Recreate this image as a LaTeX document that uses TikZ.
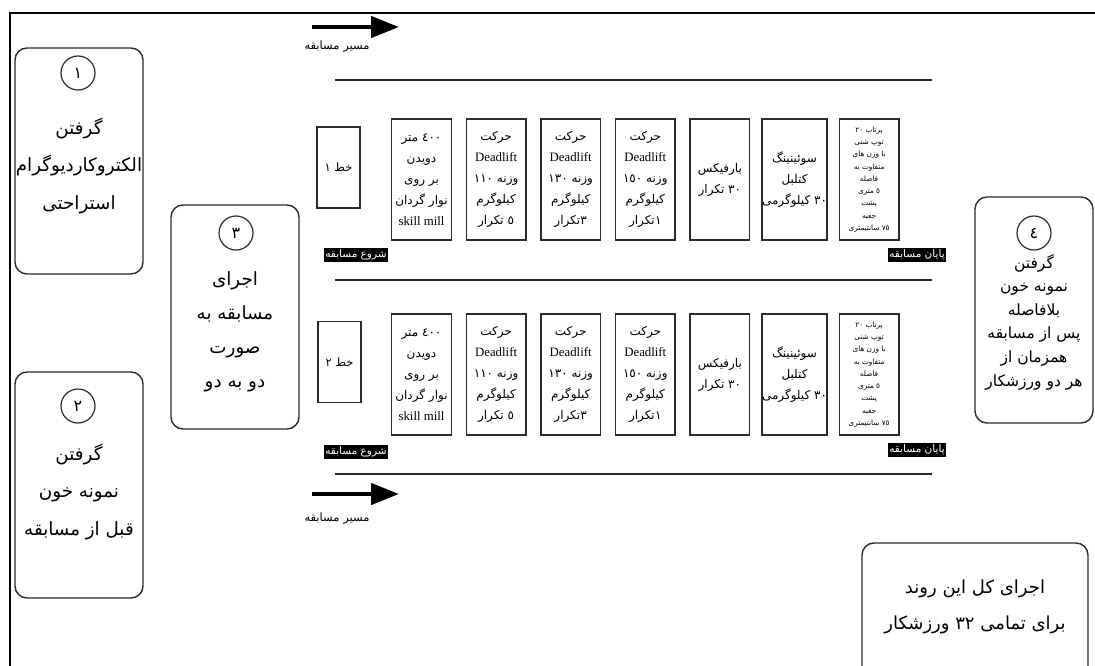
\documentclass[tikz,border=0pt]{standalone}
\usepackage{fontspec}
\setmainfont{Liberation Serif}
\newfontfamily\fafont[Script=Arabic]{DejaVu Sans}
\TeXXeTstate=1
\newcommand{\fa}[1]{{\fafont\beginR #1\endR}}
\usetikzlibrary{arrows.meta}
\definecolor{ink}{HTML}{2B2B2B}
\tikzset{
  bigbox/.style={draw=ink, line width=1.4pt, rounded corners=12pt, minimum width=128pt, minimum height=226pt, inner sep=0pt},
  numc/.style={circle, draw=ink, line width=1.2pt, minimum size=34pt, inner sep=0pt, font=\fontsize{16}{18}\selectfont},
  stbox/.style={draw=ink, line width=1.4pt, minimum width=59.5pt, minimum height=121pt, inner sep=0pt, align=center, font=\fontsize{12}{21}\selectfont},
  pushbox/.style={stbox, font=\fontsize{7.3}{12.3}\selectfont},
  linebox/.style={draw=ink, line width=1.4pt, minimum width=43pt, minimum height=81pt, inner sep=0pt, font=\fontsize{11.5}{13}\selectfont},
  bigtext/.style={align=center, inner sep=0pt, font=\fontsize{18.3}{37.5}\selectfont},
  tag/.style={fill=black, text=white, inner sep=1.5pt, font=\fontsize{10.5}{11}\selectfont},
  hline/.style={draw=ink, line width=1.1pt},
  racearrow/.style={draw=black, line width=4.5pt, -{Triangle[length=28pt,width=21pt]}},
  arrtext/.style={inner sep=0pt, font=\fontsize{11.5}{14}\selectfont},
}
\newcommand{\dl}{{\fontsize{12.8}{21}\selectfont Deadlift}}
\newcommand{\sm}{{\fontsize{12.8}{21}\selectfont skill mill}}
\begin{document}
\begin{tikzpicture}[x=1pt,y=-1pt]
\useasboundingbox (0,0) rectangle (1095,666);
% frame
\coordinate (f1) at (10,667);
\coordinate (f2) at (10,13);
\coordinate (f3) at (1096,13);
\draw[black, line width=2.4pt] (f1) -- (f2) -- (f3);

% step boxes
\node[bigbox] (b1) at (79,161) {};
\node[numc] (c1) at (78,73) {\fa{١}};
\node[bigtext] (t1) at (79,166) {\fa{گرفتن}\\\fa{الکتروکاردیوگرام}\\\fa{استراحتی}};

\node[bigbox] (b2) at (79,485) {};
\node[numc] (c2) at (78,406) {\fa{٢}};
\node[bigtext] (t2) at (79,492) {\fa{گرفتن}\\\fa{نمونه خون}\\\fa{قبل از مسابقه}};

\node[bigbox, minimum height=224pt] (b3) at (235,317) {};
\node[numc] (c3) at (236,233) {\fa{٣}};
\node[bigtext, font=\fontsize{18.3}{34}\selectfont] (t3) at (235,332) {\fa{اجرای}\\\fa{مسابقه به}\\\fa{صورت}\\\fa{دو به دو}};

\node[bigbox, minimum width=118pt] (b4) at (1034,310) {};
\node[numc] (c4) at (1034,233) {\fa{٤}};
\node[bigtext, font=\fontsize{15.5}{23.6}\selectfont] (t4) at (1034,322) {\fa{گرفتن}\\\fa{نمونه خون}\\\fa{بلافاصله}\\\fa{پس از مسابقه}\\\fa{همزمان از}\\\fa{هر دو ورزشکار}};

\coordinate (b5a) at (862,667);
\coordinate (b5b) at (1088,543);
\coordinate (b5c) at (1088,667);
\draw[draw=ink, line width=1.4pt, rounded corners=12pt] (b5a) |- (b5b) -- (b5c);
\node[bigtext, font=\fontsize{18}{36}\selectfont] (t5) at (975,607) {\fa{اجرای کل این روند}\\\fa{برای تمامی ٣٢ ورزشکار}};

% race direction arrows
\coordinate (a1s) at (312,27);
\coordinate (a1e) at (399,27);
\draw[racearrow] (a1s) -- (a1e);
\node[arrtext] (a1t) at (337,47) {\fa{مسیر مسابقه}};
\coordinate (a2s) at (312,494);
\coordinate (a2e) at (399,494);
\draw[racearrow] (a2s) -- (a2e);
\node[arrtext] (a2t) at (337,519) {\fa{مسیر مسابقه}};

% lane lines
\coordinate (l1a) at (335,80);  \coordinate (l1b) at (932,80);
\coordinate (l2a) at (335,280); \coordinate (l2b) at (932,280);
\coordinate (l3a) at (335,474); \coordinate (l3b) at (932,474);
\draw[hline] (l1a) -- (l1b);
\draw[hline] (l2a) -- (l2b);
\draw[hline] (l3a) -- (l3b);

% lane 1
\node[linebox] (r1l) at (338.5,167.5) {\fa{خط ١}};
\node[stbox] (r1s0) at (421.5,179.5) {\fa{٤٠٠ متر}\\\fa{دویدن}\\\fa{بر روی}\\\fa{نوار گردان}\\\sm};
\node[stbox] (r1s1) at (496.1,179.5) {\fa{حرکت}\\\dl\\\fa{وزنه ١١٠}\\\fa{کیلوگرم}\\\fa{٥ تکرار}};
\node[stbox] (r1s2) at (570.7,179.5) {\fa{حرکت}\\\dl\\\fa{وزنه ١٣٠}\\\fa{کیلوگرم}\\\fa{٣\kern.3pt{}تکرار}};
\node[stbox] (r1s3) at (645.3,179.5) {\fa{حرکت}\\\dl\\\fa{وزنه ١٥٠}\\\fa{کیلوگرم}\\\fa{١\kern.3pt{}تکرار}};
\node[stbox] (r1s4) at (719.9,179.5) {\fa{بارفیکس}\\\fa{٣٠ تکرار}};
\node[stbox] (r1s5) at (794.5,179.5) {\fa{سوئینینگ}\\\fa{کتلبل}\\\fa{٣٠ کیلوگرمی}};
\node[pushbox] (r1s6) at (869.1,179.5) {\fa{پرتاب ٢٠}\\\fa{توپ شنی}\\\fa{با وزن های}\\\fa{متفاوت به}\\\fa{فاصله}\\\fa{٥ متری}\\\fa{پشت}\\\fa{جعبه}\\\fa{٧٥ سانتیمتری}};
\node[tag] (r1start) at (356,255) {\fa{شروع مسابقه}};
\node[tag] (r1end) at (917,255) {\fa{پایان مسابقه}};

% lane 2
\node[linebox] (r2l) at (339.5,362) {\fa{خط ٢}};
\node[stbox] (r2s0) at (421.5,374.5) {\fa{٤٠٠ متر}\\\fa{دویدن}\\\fa{بر روی}\\\fa{نوار گردان}\\\sm};
\node[stbox] (r2s1) at (496.1,374.5) {\fa{حرکت}\\\dl\\\fa{وزنه ١١٠}\\\fa{کیلوگرم}\\\fa{٥ تکرار}};
\node[stbox] (r2s2) at (570.7,374.5) {\fa{حرکت}\\\dl\\\fa{وزنه ١٣٠}\\\fa{کیلوگرم}\\\fa{٣\kern.3pt{}تکرار}};
\node[stbox] (r2s3) at (645.3,374.5) {\fa{حرکت}\\\dl\\\fa{وزنه ١٥٠}\\\fa{کیلوگرم}\\\fa{١\kern.3pt{}تکرار}};
\node[stbox] (r2s4) at (719.9,374.5) {\fa{بارفیکس}\\\fa{٣٠ تکرار}};
\node[stbox] (r2s5) at (794.5,374.5) {\fa{سوئینینگ}\\\fa{کتلبل}\\\fa{٣٠ کیلوگرمی}};
\node[pushbox] (r2s6) at (869.1,374.5) {\fa{پرتاب ٢٠}\\\fa{توپ شنی}\\\fa{با وزن های}\\\fa{متفاوت به}\\\fa{فاصله}\\\fa{٥ متری}\\\fa{پشت}\\\fa{جعبه}\\\fa{٧٥ سانتیمتری}};
\node[tag] (r2start) at (356,452) {\fa{شروع مسابقه}};
\node[tag] (r2end) at (917,450) {\fa{پایان مسابقه}};
\end{tikzpicture}
\end{document}
